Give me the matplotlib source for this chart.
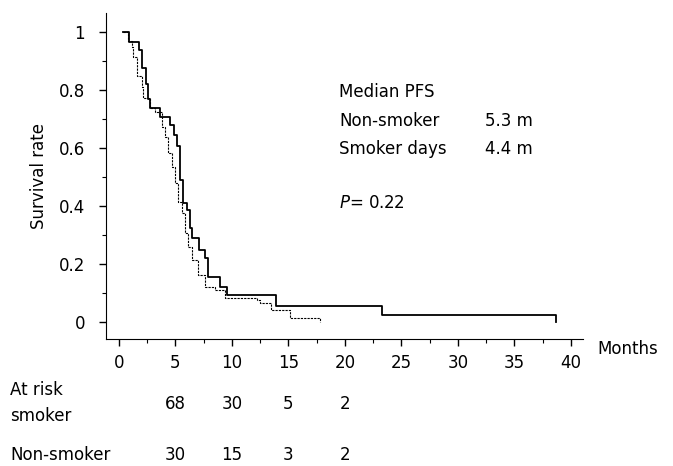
import matplotlib.pyplot as plt
from matplotlib.ticker import MultipleLocator

# Kaplan-Meier steps (months, survival after the step)
ns_months = [0.35, 0.9, 1.8, 2.0, 2.4, 2.55, 2.75, 3.6, 4.5, 4.9, 5.1, 5.4, 5.7,
             6.0, 6.3, 6.5, 7.1, 7.6, 7.9, 8.9, 9.6, 13.9, 23.3, 38.7]
ns_surv = [1.0, 0.965, 0.94, 0.876, 0.82, 0.77, 0.74, 0.707, 0.68, 0.645, 0.607,
           0.49, 0.41, 0.386, 0.324, 0.29, 0.248, 0.22, 0.155, 0.12, 0.093,
           0.055, 0.024, 0.0]

sm_months = [0.35, 0.8, 1.15, 1.25, 1.6, 2.0, 2.1, 2.75, 3.2, 3.8, 4.1, 4.3, 4.7,
             5.0, 5.2, 5.6, 5.8, 6.1, 6.5, 7.0, 7.6, 8.5, 9.4, 12.2, 12.5, 13.5,
             15.1, 17.8]
sm_surv = [1.0, 0.97, 0.948, 0.914, 0.85, 0.81, 0.772, 0.738, 0.724, 0.672, 0.638,
           0.583, 0.534, 0.48, 0.414, 0.376, 0.307, 0.259, 0.214, 0.162, 0.12,
           0.11, 0.083, 0.076, 0.066, 0.041, 0.014, 0.0]

# numbers at risk
risk_months = [5, 10, 15, 20]
risk_smoker = [68, 30, 5, 2]
risk_nonsmoker = [30, 15, 3, 2]

y_ticks = [0, 0.2, 0.4, 0.6, 0.8, 1.0]
y_labels = ['0', '0.2', '0.4', '0.6', '0.8', '1']

fig = plt.figure(figsize=(6.73, 4.66), dpi=100)
ax = fig.add_axes([0.1575, 0.2725, 0.7085, 0.6995])

ax.step(ns_months, ns_surv, where='post', color='black', lw=1.3)
ax.step(sm_months, sm_surv, where='post', color='black', lw=0.8,
        linestyle=(0, (2, 1)))

ax.set_xlim(-1.15, 41.06)
ax.set_ylim(-0.059, 1.066)
ax.spines['top'].set_visible(False)
ax.spines['right'].set_visible(False)
ax.xaxis.set_major_locator(MultipleLocator(5))
ax.xaxis.set_minor_locator(MultipleLocator(2.5))
ax.set_yticks(y_ticks, y_labels)
ax.yaxis.set_minor_locator(MultipleLocator(0.1))
ax.tick_params(which='major', length=5, width=1, labelsize=12)
ax.tick_params(which='minor', length=3, width=0.8)
ax.tick_params(axis='y', pad=10)
ax.tick_params(axis='x', pad=6)

ax.set_ylabel('Survival rate', fontsize=12, labelpad=8)
ax.text(1.03, -0.03, 'Months', transform=ax.transAxes, fontsize=12,
        va='center', ha='left')

ax.text(19.5, 0.795, 'Median PFS', fontsize=12, va='center')
ax.text(19.5, 0.693, 'Non-smoker', fontsize=12, va='center')
ax.text(32.4, 0.693, '5.3 m', fontsize=12, va='center')
ax.text(19.5, 0.596, 'Smoker days', fontsize=12, va='center')
ax.text(32.4, 0.596, '4.4 m', fontsize=12, va='center')
ax.text(19.5, 0.41, '$P$= 0.22', fontsize=12, va='center')

trans = ax.get_xaxis_transform()
for m, a, b in zip(risk_months, risk_smoker, risk_nonsmoker):
    ax.text(m, -0.2, str(a), transform=trans, fontsize=12, ha='center', va='center')
    ax.text(m, -0.355, str(b), transform=trans, fontsize=12, ha='center', va='center')

fig.text(0.015, 1 - 390 / 466, 'At risk', fontsize=12, va='center')
fig.text(0.015, 1 - 416 / 466, 'smoker', fontsize=12, va='center')
fig.text(0.015, 1 - 455 / 466, 'Non-smoker', fontsize=12, va='center')

plt.savefig('out.png', dpi=100)
